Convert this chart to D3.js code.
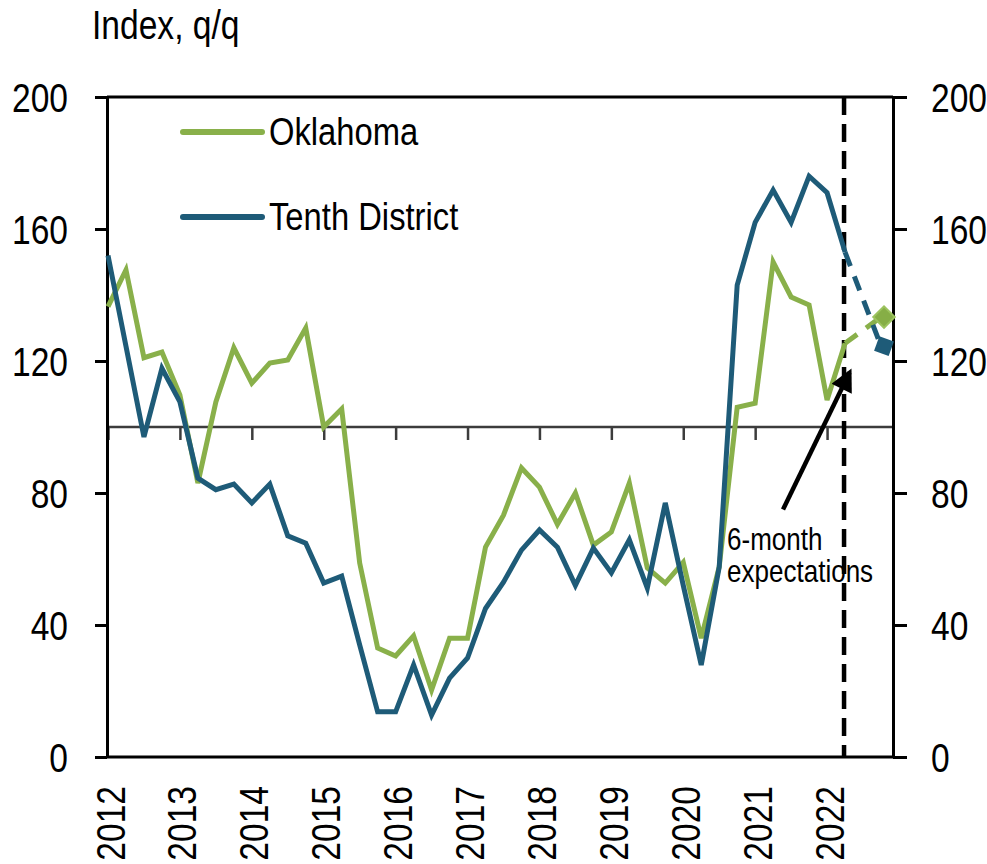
<!DOCTYPE html>
<html>
<head>
<meta charset="utf-8">
<script src="https://cdn.jsdelivr.net/npm/d3@7"></script>
<style>
  body { margin: 0; background: #fff; }
  svg text { font-family: "Liberation Sans", Arial, sans-serif; fill: #000; }
</style>
</head>
<body>
<svg id="chart" width="987" height="864"></svg>
<script>
// years on the x axis, one tick per Q1
var years = ["2012", "2013", "2014", "2015", "2016", "2017", "2018", "2019", "2020", "2021", "2022"];
var quarters = [];
years.forEach(function (yr) {
  ["Q1", "Q2", "Q3", "Q4"].forEach(function (q) { quarters.push(yr + q); });
});

// quarterly index values, 2012Q1 - 2022Q2
var oklahoma = [
  136.5, 147.6, 121.0, 122.7,
  109.7, 83.0, 107.6, 124.0,
  113.3, 119.4, 120.3, 130.0,
  100.0, 105.5, 58.8, 33.0,
  30.6, 36.7, 20.3, 36.0,
  36.0, 63.6, 73.3, 87.6,
  81.8, 70.5, 80.0, 64.2,
  68.2, 83.0, 57.3, 52.7,
  59.0, 36.0, 57.6, 106.0,
  107.2, 150.0, 139.4, 137.0,
  108.2, 125.4
];
var tenthDistrict = [
  152.0, 124.5, 97.0, 117.8,
  107.6, 84.5, 81.0, 82.7,
  77.0, 82.7, 67.0, 64.8,
  52.7, 54.8, 34.0, 13.7,
  13.7, 27.9, 12.7, 23.9,
  30.0, 45.0, 53.0, 62.7,
  68.8, 63.6, 52.0, 63.3,
  55.8, 65.8, 51.2, 77.0,
  52.0, 27.9, 57.6, 143.0,
  162.0, 171.8, 162.0, 176.0,
  171.0, 153.0
];
// 6-month expectations
var expectQuarter = "2022Q4";
var oklahomaExpect = 133.3;
var tenthExpect = 124.5;

var yTicks = [0, 40, 80, 120, 160, 200];

var green = "#89b04a", blue = "#1e5b78";
var SQ = 0.84; // narrow look of the original font

var svg = d3.select("#chart");
var plotLeft = 107, plotRight = 893, plotTop = 97, plotBottom = 757;

var x = d3.scalePoint().domain(quarters).range([108, 881]);
var y = d3.scaleLinear().domain([0, 200]).range([plotBottom, plotTop]);
function xi(i) { return x.range()[0] + i * x.step(); }

// text squeezed horizontally
function narrowText(px, py, size, str) {
  return svg.append("text")
    .attr("transform", "translate(" + px + "," + py + ") scale(" + SQ + ",1)")
    .style("font-size", size + "px")
    .text(str);
}

// 100 reference line with year ticks
svg.append("line")
  .attr("x1", plotLeft).attr("x2", plotRight)
  .attr("y1", y(100)).attr("y2", y(100))
  .style("stroke", "#3c3c3c").style("stroke-width", 2.5);

svg.append("g")
  .attr("transform", "translate(0," + y(100) + ")")
  .call(d3.axisBottom(x)
    .tickValues(years.map(function (d) { return d + "Q1"; }))
    .tickSize(13).tickSizeOuter(0).tickFormat(""))
  .call(function (g) { g.select(".domain").remove(); })
  .selectAll("line").style("stroke", "#3c3c3c").style("stroke-width", 2.5);

// year labels, rotated
var yearAxis = svg.append("g")
  .attr("transform", "translate(0," + plotBottom + ")")
  .call(d3.axisBottom(x)
    .tickValues(years.map(function (d) { return d + "Q1"; }))
    .tickSize(0).tickSizeOuter(0)
    .tickFormat(function (d) { return d.slice(0, 4); }));
yearAxis.select(".domain").remove();
yearAxis.selectAll("text")
  .attr("transform", "rotate(-90) scale(" + SQ + ",1)")
  .attr("text-anchor", "end")
  .attr("x", -29 / SQ).attr("y", 2).attr("dy", "0.35em")
  .style("font-size", "40px");

// frame top / bottom
[plotTop, plotBottom].forEach(function (yy) {
  svg.append("line")
    .attr("x1", plotLeft).attr("x2", plotRight).attr("y1", yy).attr("y2", yy)
    .style("stroke", "#000").style("stroke-width", 3);
});

// left and right axes
var leftAxis = svg.append("g")
  .attr("transform", "translate(" + plotLeft + ",0)")
  .call(d3.axisLeft(y).tickValues(yTicks).tickSize(12).tickSizeOuter(0));
var rightAxis = svg.append("g")
  .attr("transform", "translate(" + plotRight + ",0)")
  .call(d3.axisRight(y).tickValues(yTicks).tickSize(14).tickSizeOuter(0));
[leftAxis, rightAxis].forEach(function (g) {
  g.select(".domain").style("stroke", "#000").style("stroke-width", 3);
  g.selectAll("line").style("stroke", "#000").style("stroke-width", 3);
  g.selectAll("text").style("font-size", "40px").attr("dy", "0.36em")
    .attr("transform", "scale(" + SQ + ",1)");
});
leftAxis.selectAll("text").attr("x", -39 / SQ);
rightAxis.selectAll("text").attr("x", 38 / SQ);

// vertical dashed line at latest quarter
svg.append("line")
  .attr("x1", x("2022Q2") - 1).attr("x2", x("2022Q2") - 1)
  .attr("y1", plotTop).attr("y2", plotBottom)
  .style("stroke", "#000").style("stroke-width", 4.5)
  .style("stroke-dasharray", "18,9");

// series lines
var line = d3.line()
  .x(function (d, i) { return x(quarters[i]); })
  .y(function (d) { return y(d); });

function drawSeries(values, expect, color) {
  svg.append("path")
    .datum(values)
    .attr("d", line)
    .style("fill", "none").style("stroke", color)
    .style("stroke-width", 5).style("stroke-linejoin", "miter");
  var last = values.length - 1;
  svg.append("line")
    .attr("x1", x(quarters[last])).attr("y1", y(values[last]))
    .attr("x2", x(expectQuarter)).attr("y2", y(expect))
    .style("stroke", color).style("stroke-width", 5)
    .style("stroke-dasharray", "15,11");
}
drawSeries(oklahoma, oklahomaExpect, green);
drawSeries(tenthDistrict, tenthExpect, blue);

// expectation markers
svg.append("path")
  .attr("d", d3.symbol().type(d3.symbolSquare).size(230)())
  .attr("transform", "translate(" + (x(expectQuarter) + 3) + "," + y(oklahomaExpect) + ") rotate(45)")
  .style("fill", "#86ae46").style("stroke", "#9cc35e").style("stroke-width", 2);
svg.append("path")
  .attr("d", d3.symbol().type(d3.symbolSquare).size(240)())
  .attr("transform", "translate(" + (x(expectQuarter) + 3) + "," + y(tenthExpect) + ") rotate(20)")
  .style("fill", blue);

// legend
var legend = [
  { name: "Oklahoma", color: green, y: 132 },
  { name: "Tenth District", color: blue, y: 217 }
];
legend.forEach(function (d) {
  svg.append("line")
    .attr("x1", 183).attr("x2", 262).attr("y1", d.y).attr("y2", d.y)
    .style("stroke", d.color).style("stroke-width", 6).style("stroke-linecap", "round");
  narrowText(269, d.y + 13, 39, d.name);
});

// title
narrowText(92, 39, 40, "Index, q/q");

// annotation
svg.append("defs").append("marker")
  .attr("id", "arrow").attr("viewBox", "0 0 10 10")
  .attr("refX", 8).attr("refY", 5)
  .attr("markerWidth", 5.5).attr("markerHeight", 5)
  .attr("orient", "auto").attr("markerUnits", "strokeWidth")
  .append("path").attr("d", "M0,0 L10,5 L0,10 Z").style("fill", "#000");

svg.append("line")
  .attr("x1", xi(37.55)).attr("y1", y(75))
  .attr("x2", xi(41.25)).attr("y2", y(116.5))
  .style("stroke", "#000").style("stroke-width", 4.5)
  .attr("marker-end", "url(#arrow)");

narrowText(727, 550, 31, "6-month");
narrowText(727, 582, 31, "expectations");
</script>
</body>
</html>
